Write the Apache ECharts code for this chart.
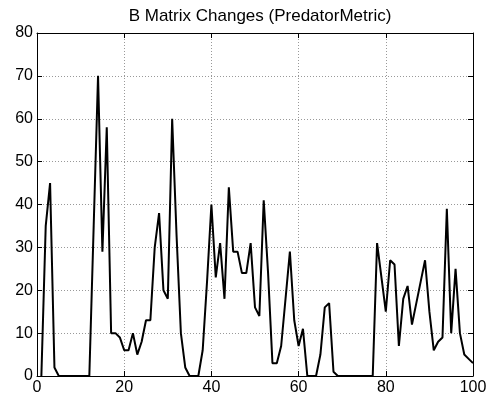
<!DOCTYPE html>
<html>
<head>
<meta charset="utf-8">
<script src="https://cdn.jsdelivr.net/npm/echarts@6/dist/echarts.min.js"></script>
<style>html,body{margin:0;padding:0;background:#fff}#c{width:492px;height:400px}</style>
</head>
<body>
<div id="c"></div>
<script>
var titleText = 'B Matrix Changes (PredatorMetric)';
var xValues = [];
for (var i = 1; i <= 100; i++) xValues.push(i);
var yValues = [
  0, 35, 45, 2, 0, 0, 0, 0, 0, 0,
  0, 0, 35, 70, 29, 58, 10, 10, 9, 6,
  6, 10, 5, 8, 13, 13, 30, 38, 20, 18,
  60, 33, 10, 2, 0, 0, 0, 6, 22, 40,
  23, 31, 18, 44, 29, 29, 24, 24, 31, 16,
  14, 41, 24, 3, 3, 7, 18, 29, 13, 7,
  11, 0, 0, 0, 5, 16, 17, 1, 0, 0,
  0, 0, 0, 0, 0, 0, 0, 31, 23, 15,
  27, 26, 7, 18, 21, 12, 17, 22, 27, 15,
  6, 8, 9, 39, 10, 25, 10, 5, 4, 3
];
var xTicks = [0, 20, 40, 60, 80, 100];
var yTicks = [0, 10, 20, 30, 40, 50, 60, 70, 80];

var font = 'Liberation Sans, Arial, sans-serif';
var lineStyle = {color: '#000', width: 1};
var gridLine = {show: true, lineStyle: {color: '#999', type: [1, 2], width: 1}};
function axisCommon(extra) {
  var a = {
    type: 'value',
    axisLine: {show: true, onZero: false, lineStyle: lineStyle},
    axisTick: {show: true, inside: true, length: 5, lineStyle: lineStyle},
    splitLine: {show: false},
    axisLabel: {show: false}
  };
  for (var k in extra) a[k] = extra[k];
  return a;
}
var chart = echarts.init(document.getElementById('c'), null, {renderer: 'canvas'});
chart.setOption({
  animation: false,
  backgroundColor: '#fff',
  title: {
    text: titleText, left: 255, textAlign: 'center', top: 3,
    textStyle: {fontFamily: font, fontSize: 17, fontWeight: 'normal', color: '#000'}
  },
  grid: {left: 37, right: 19, top: 33, bottom: 24, containLabel: false},
  xAxis: [
    axisCommon({position: 'bottom', min: xTicks[0], max: xTicks[xTicks.length - 1], interval: 20,
      splitLine: gridLine,
      axisLabel: {show: true, color: '#000', fontFamily: font, fontSize: 16, margin: 4}}),
    axisCommon({position: 'top', min: xTicks[0], max: xTicks[xTicks.length - 1], interval: 20})
  ],
  yAxis: [
    axisCommon({position: 'left', min: yTicks[0], max: yTicks[yTicks.length - 1], interval: 10,
      splitLine: gridLine,
      axisLabel: {show: true, color: '#000', fontFamily: font, fontSize: 16, margin: 4}}),
    axisCommon({position: 'right', min: yTicks[0], max: yTicks[yTicks.length - 1], interval: 10})
  ],
  series: [{
    type: 'line',
    data: xValues.map(function (x, i) { return [x, yValues[i]]; }),
    showSymbol: false,
    lineStyle: {color: '#000', width: 2},
    clip: true
  }]
});
</script>
</body>
</html>
